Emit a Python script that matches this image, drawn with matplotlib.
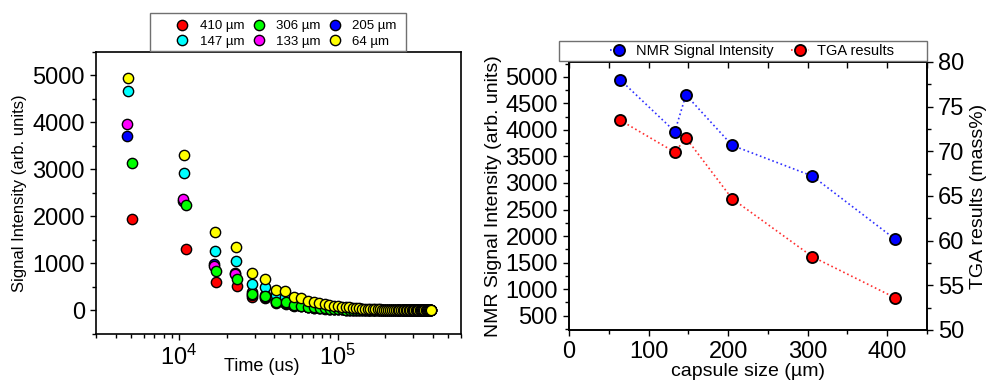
import matplotlib.pyplot as plt
import numpy as np
from matplotlib.patches import Rectangle
from matplotlib.ticker import MultipleLocator, LogLocator, NullFormatter

plt.rcParams['font.family'] = ['Liberation Sans', 'DejaVu Sans']
plt.rcParams['mathtext.fontset'] = 'custom'
plt.rcParams['mathtext.rm'] = 'Liberation Sans'

# CPMG echo train (us), shared by all samples
echo_times_us = [
    4800, 10800, 16800, 22800, 28800, 34800, 40800, 46800, 52800, 58800,
    64800, 70800, 76800, 82800, 88800, 94800, 100800, 106800, 112800, 118800,
    124800, 130800, 136800, 142800, 148800, 154800, 160800, 166800, 172800, 178800,
    184800, 190800, 196800, 202800, 208800, 214800, 220800, 226800, 232800, 238800,
    244800, 250800, 256800, 262800, 268800, 274800, 280800, 286800, 292800, 298800,
    304800, 310800, 316800, 322800, 328800, 334800, 340800, 346800, 352800, 358800,
    364800, 370800, 376800, 382800, 388800,
]

# small per-sample delay of the first echo (us)
echo_delay_us = {'410': 270, '306': 270, '205': -130, '147': 0, '133': -130, '64': 0}

decay_410 = [
    1940, 1310, 615, 515, 290, 255, 160, 145, 100, 88,
    66, 58, 46, 41, 34, 30, 25, 22, 19, 17,
    14, 13, 11, 10, 8, 8, 7, 6, 5, 5,
    4, 4, 3, 3, 3, 2, 2, 2, 2, 2,
    1, 1, 1, 1, 1, 1, 1, 1, 0, 0,
    0, 0, 0, 0, 0, 0, 0, 0, 0, 0,
    0, 0, 0, 0, 0,
]
decay_306 = [
    3130, 2240, 840, 675, 350, 305, 180, 170, 110, 95,
    72, 64, 50, 44, 36, 32, 27, 24, 20, 18,
    15, 14, 12, 10, 9, 8, 7, 6, 6, 5,
    4, 4, 4, 3, 3, 3, 2, 2, 2, 2,
    1, 1, 1, 1, 1, 1, 1, 1, 1, 0,
    0, 0, 0, 0, 0, 0, 0, 0, 0, 0,
    0, 0, 0, 0, 0,
]
decay_205 = [
    3710, 2330, 980, 790, 340, 290, 185, 165, 110, 97,
    72, 63, 50, 44, 36, 32, 27, 24, 20, 18,
    15, 14, 12, 11, 9, 8, 7, 7, 6, 5,
    5, 4, 4, 3, 3, 3, 2, 2, 2, 2,
    2, 1, 1, 1, 1, 1, 1, 1, 1, 1,
    0, 0, 0, 0, 0, 0, 0, 0, 0, 0,
    0, 0, 0, 0, 0,
]
decay_147 = [
    4660, 2930, 1265, 1045, 560, 495, 320, 285, 195, 170,
    130, 115, 92, 82, 68, 60, 50, 45, 39, 35,
    30, 27, 24, 21, 19, 17, 15, 13, 12, 11,
    10, 9, 8, 7, 6, 6, 5, 5, 4, 4,
    3, 3, 3, 3, 2, 2, 2, 2, 2, 1,
    1, 1, 1, 1, 1, 1, 1, 1, 0, 0,
    0, 0, 0, 0, 0,
]
decay_133 = [
    3970, 2370, 950, 770, 390, 330, 210, 185, 125, 110,
    82, 72, 57, 50, 41, 36, 30, 27, 23, 20,
    17, 15, 13, 12, 10, 9, 8, 7, 6, 6,
    5, 5, 4, 4, 3, 3, 3, 2, 2, 2,
    2, 2, 1, 1, 1, 1, 1, 1, 1, 1,
    0, 0, 0, 0, 0, 0, 0, 0, 0, 0,
    0, 0, 0, 0, 0,
]
decay_64 = [
    4950, 3300, 1670, 1340, 800, 680, 440, 405, 290, 255,
    205, 180, 150, 135, 115, 103, 88, 80, 70, 64,
    56, 51, 45, 41, 37, 34, 30, 28, 25, 23,
    21, 19, 17, 16, 14, 13, 12, 11, 10, 9,
    8, 8, 7, 6, 6, 5, 5, 4, 4, 4,
    3, 3, 3, 2, 2, 2, 2, 2, 1, 1,
    1, 1, 1, 1, 0,
]

samples = ['410', '306', '205', '147', '133', '64']
decays = {'410': decay_410, '306': decay_306, '205': decay_205,
          '147': decay_147, '133': decay_133, '64': decay_64}
colors = {'410': '#ff0000', '306': '#00ff00', '205': '#0000ff',
          '147': '#00ffff', '133': '#ff00ff', '64': '#ffff00'}
draw_order = ['410', '205', '133', '147', '306', '64']

# capsule size comparison
capsule_size_um = [64, 133, 147, 205, 306, 410]
nmr_intensity = [4950, 3970, 4660, 3710, 3130, 1940]
tga_mass_pct = [73.5, 69.9, 71.5, 64.7, 58.2, 53.6]

fig = plt.figure(figsize=(9.87, 3.81), dpi=100)

# ---- left: signal decay vs time ----
ax1 = fig.add_axes([0.0973, 0.1234, 0.3698, 0.7402])
handles = {}
for s in draw_order:
    t = np.array(echo_times_us) + echo_delay_us[s]
    h, = ax1.plot(t, decays[s], 'o', ms=7.4, mfc=colors[s], mec='black',
                  mew=1.0, linestyle='none', label=s + ' µm')
    handles[s] = h

ax1.set_xscale('log')
ax1.set_xlim(3000, 6e5)
ax1.set_ylim(-500, 5500)
ax1.yaxis.set_major_locator(MultipleLocator(1000))
ax1.yaxis.set_minor_locator(MultipleLocator(500))
ax1.xaxis.set_major_locator(LogLocator(base=10, numticks=10))
ax1.xaxis.set_minor_locator(LogLocator(base=10, subs=np.arange(2, 10), numticks=10))
ax1.xaxis.set_minor_formatter(NullFormatter())
ax1.tick_params(which='both', direction='out', top=False, right=False,
                labelsize=17, width=1.0)
ax1.tick_params(which='major', length=4.5)
ax1.tick_params(which='minor', length=2.8)
ax1.set_ylabel('Signal Intensity (arb. units)', fontsize=12, labelpad=4)
ax1.set_xlabel('Time (us)', fontsize=13)
ax1.xaxis.set_label_coords(0.455, -0.085)
for sp in ax1.spines.values():
    sp.set_linewidth(1.2)

# legend fills column by column: reorder so rows read 410/306/205, 147/133/64
leg_order = ['410', '147', '306', '133', '205', '64']
fig.add_artist(Rectangle((0.152, 0.866), 0.2594, 0.0997, transform=fig.transFigure,
                         fill=False, edgecolor='#707070', linewidth=1.0))
fig.legend([handles[s] for s in leg_order], [s + ' µm' for s in leg_order],
           ncol=3, loc='center', bbox_to_anchor=(0.2898, 0.911), frameon=False,
           fontsize=9.5, handletextpad=0.8, columnspacing=0.6, labelspacing=0.25,
           handlelength=1.0, borderpad=0.1)

# ---- right: NMR intensity and TGA vs capsule size ----
ax2 = fig.add_axes([0.5765, 0.1339, 0.3627, 0.7034])
ax3 = ax2.twinx()
h_nmr, = ax2.plot(capsule_size_um, nmr_intensity, linestyle=':', color='#3030ff',
                  linewidth=1.2, marker='o', ms=8, mfc='#0000ff', mec='black', mew=1.3)
h_tga, = ax3.plot(capsule_size_um, tga_mass_pct, linestyle=':', color='#ff3030',
                  linewidth=1.2, marker='o', ms=8, mfc='#ff0000', mec='black', mew=1.3)

ax2.set_xlim(0, 450)
ax2.set_ylim(230, 5280)
ax3.set_ylim(50, 80)
ax2.xaxis.set_major_locator(MultipleLocator(100))
ax2.xaxis.set_minor_locator(MultipleLocator(50))
ax2.yaxis.set_major_locator(MultipleLocator(500))
ax2.yaxis.set_minor_locator(MultipleLocator(250))
ax3.yaxis.set_major_locator(MultipleLocator(5))
ax3.yaxis.set_minor_locator(MultipleLocator(2.5))
ax2.tick_params(which='both', direction='out', top=False, right=False,
                labelsize=17, width=1.0)
ax2.tick_params(which='major', length=4.5)
ax2.tick_params(which='minor', length=2.8)
ax3.tick_params(which='both', direction='out', labelsize=17, width=1.0)
ax3.tick_params(which='major', length=4.5)
ax3.tick_params(which='minor', length=2.8)

# inward ticks along the top edge
top = ax2.secondary_xaxis('top')
top.xaxis.set_major_locator(MultipleLocator(50))
top.tick_params(direction='in', length=4.5, width=1.0, labeltop=False)
top.spines['top'].set_linewidth(1.2)

ax2.set_xlabel('capsule size (µm)', fontsize=14, labelpad=0)
ax2.set_ylabel('NMR Signal Intensity (arb. units)', fontsize=14)
ax3.set_ylabel('TGA results (mass%)', fontsize=14, labelpad=4)
ax2.yaxis.set_label_coords(-0.187, 0.5)
for sp in list(ax2.spines.values()) + list(ax3.spines.values()):
    sp.set_linewidth(1.2)

fig.add_artist(Rectangle((0.5664, 0.8399), 0.3729, 0.0525, transform=fig.transFigure,
                         fill=False, edgecolor='#707070', linewidth=1.0))
fig.legend([h_nmr, h_tga], ['NMR Signal Intensity', 'TGA results'], ncol=2,
           loc='center', bbox_to_anchor=(0.762, 0.866), frameon=False, fontsize=10.5,
           handletextpad=0.6, columnspacing=1.2, handlelength=1.2, borderpad=0.1)

fig.savefig('out.png', dpi=100)
